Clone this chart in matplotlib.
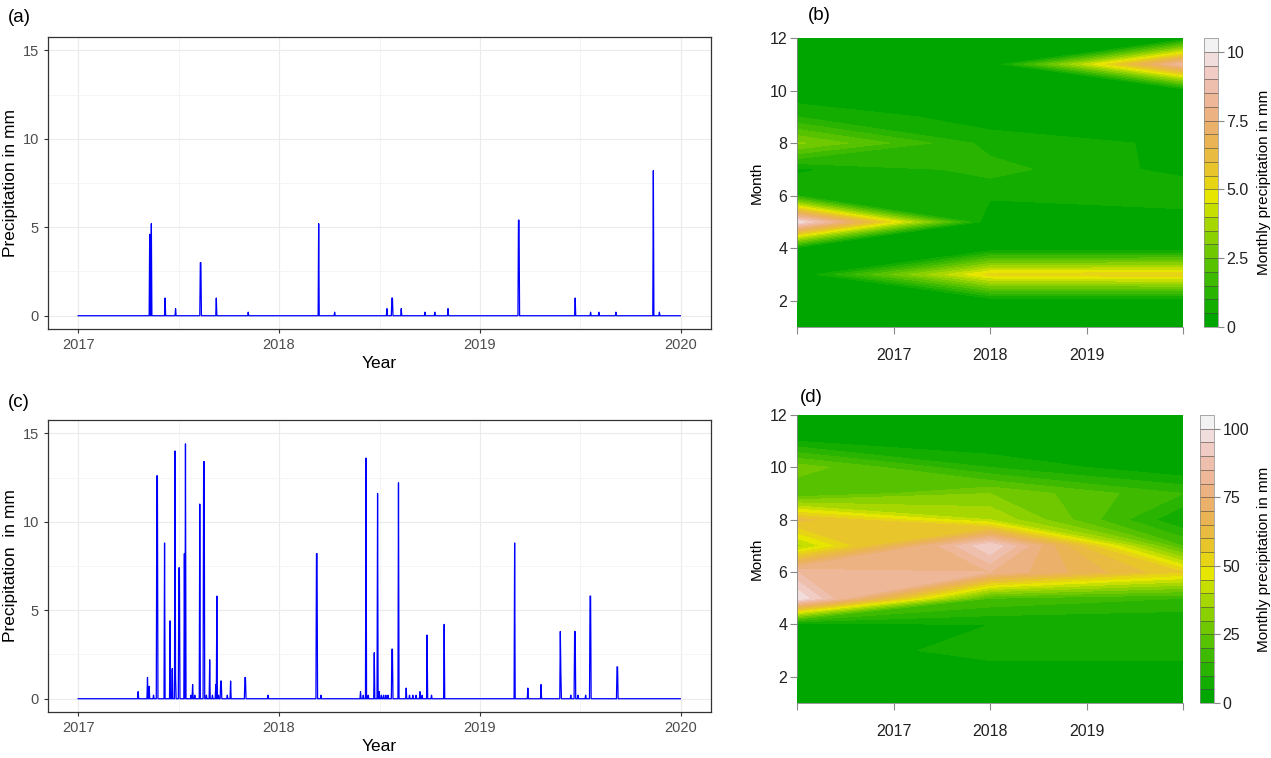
import colorsys
import numpy as np
import pandas as pd
import matplotlib
matplotlib.use("Agg")
import matplotlib.pyplot as plt
from matplotlib.ticker import FixedLocator, FixedFormatter

plt.rcParams['font.family'] = ['Liberation Sans', 'DejaVu Sans']

# daily series span
start_date = '2017-01-01'
end_date = '2019-12-31'

# rain days, panel (a)
rain_a_dates = ['2017-05-11', '2017-05-14', '2017-06-08', '2017-06-27', '2017-08-11', '2017-08-12',
                '2017-09-09', '2017-11-06', '2018-03-14', '2018-04-12', '2018-07-16', '2018-07-25',
                '2018-07-26', '2018-08-11', '2018-09-23', '2018-10-11', '2018-11-04', '2019-03-12',
                '2019-03-13', '2019-06-23', '2019-07-21', '2019-08-05', '2019-09-05', '2019-11-12',
                '2019-11-23']
rain_a_vals = [4.6, 5.2, 1.0, 0.4, 3.0, 3.0,
               1.0, 0.2, 5.2, 0.2, 0.4, 1.0,
               1.0, 0.4, 0.2, 0.2, 0.4, 5.4,
               5.4, 1.0, 0.2, 0.2, 0.2, 8.2,
               0.2]

# rain days, panel (c)
rain_c_dates = ['2017-04-20', '2017-05-07', '2017-05-10', '2017-05-18', '2017-05-24', '2017-05-25',
                '2017-06-07', '2017-06-17', '2017-06-21', '2017-06-26', '2017-06-27', '2017-07-03',
                '2017-07-04', '2017-07-13', '2017-07-15', '2017-07-25', '2017-07-28', '2017-08-01',
                '2017-08-10', '2017-08-17', '2017-08-18', '2017-08-22', '2017-08-28', '2017-09-02',
                '2017-09-08', '2017-09-10', '2017-09-13', '2017-09-17', '2017-09-18', '2017-09-29',
                '2017-10-05', '2017-10-31', '2017-11-01', '2017-12-12', '2018-03-10', '2018-03-11',
                '2018-03-18', '2018-05-29', '2018-06-03', '2018-06-08', '2018-06-12', '2018-06-23',
                '2018-06-29', '2018-07-02', '2018-07-06', '2018-07-10', '2018-07-14', '2018-07-18',
                '2018-07-25', '2018-07-26', '2018-08-06', '2018-08-20', '2018-08-26', '2018-09-01',
                '2018-09-07', '2018-09-14', '2018-09-18', '2018-09-27', '2018-10-05', '2018-10-28',
                '2019-03-05', '2019-03-29', '2019-04-22', '2019-05-27', '2019-05-28', '2019-06-15',
                '2019-06-22', '2019-06-23', '2019-06-28', '2019-07-12', '2019-07-20', '2019-07-21',
                '2019-09-07', '2019-09-08']
rain_c_vals = [0.4, 1.2, 0.7, 0.2, 12.6, 12.6,
               8.8, 4.4, 1.7, 14.0, 1.2, 7.4,
               7.4, 8.2, 14.4, 0.2, 0.8, 0.2,
               11.0, 13.4, 13.4, 0.2, 2.2, 0.2,
               0.8, 5.8, 0.2, 1.0, 1.0, 0.2,
               1.0, 1.2, 1.2, 0.2, 8.2, 8.2,
               0.2, 0.4, 0.2, 13.6, 0.2, 2.6,
               11.6, 0.4, 0.2, 0.2, 0.2, 0.2,
               2.8, 2.8, 12.2, 0.6, 0.2, 0.2,
               0.2, 0.4, 0.2, 3.6, 0.2, 4.2,
               8.8, 0.6, 0.8, 3.8, 1.4, 0.2,
               3.8, 3.8, 0.2, 0.2, 5.8, 5.8,
               1.8, 1.8]

# monthly grids for the contour panels (rows = month 1..12, cols = 2017, 2018, 2019)
months = list(range(1, 13))
years = ['2017', '2018', '2019']
monthly_b = [[0.0, 0.0, 0.0],
             [0.0, 0.0, 0.0],
             [0.0, 5.2, 5.4],
             [0.3, 0.0, 0.0],
             [9.8, 0.0, 0.0],
             [1.0, 0.6, 1.0],
             [0.4, 1.2, 0.3],
             [3.1, 0.8, 0.4],
             [1.0, 0.2, 0.0],
             [0.0, 0.4, 0.0],
             [0.2, 0.0, 8.4],
             [0.0, 0.0, 0.0]]
monthly_d = [[0, 0, 0],
             [0, 0, 0],
             [0, 8, 8],
             [0, 5, 5],
             [100, 20, 15],
             [85, 80, 55],
             [38, 95, 20],
             [62, 40, 5],
             [20, 30, 15],
             [28, 10, 0],
             [5, 0, 0],
             [0, 0, 0]]


def terrain_colors(n):
    # same ramp as R's terrain.colors()
    k = n // 2
    cols = []
    h = np.linspace(4 / 12, 2 / 12, k)
    v = np.linspace(0.65, 0.9, k)
    for i in range(k):
        cols.append(colorsys.hsv_to_rgb(h[i], 1.0, v[i]))
    h2 = np.linspace(2 / 12, 0, n - k + 1)[1:]
    s2 = np.linspace(1, 0, n - k + 1)[1:]
    v2 = np.linspace(0.9, 0.95, n - k + 1)[1:]
    for i in range(n - k):
        cols.append(colorsys.hsv_to_rgb(h2[i], s2[i], v2[i]))
    return cols


def daily(dates, vals):
    idx = pd.date_range(start_date, end_date, freq='D')
    s = pd.Series(0.0, index=idx)
    for d, v in zip(dates, vals):
        s[pd.Timestamp(d)] = v
    frac = idx.year + (idx.dayofyear - 1) / 365.0
    return np.asarray(frac), s.values


def ts_panel(ax, dates, vals, ylabel):
    x, y = daily(dates, vals)
    ax.plot(x, y, color='#0000ff', lw=0.9)
    ax.set_xlim(2016.85, 2020.15)
    ax.set_ylim(-0.75, 15.75)
    ax.set_xticks([2017, 2018, 2019, 2020])
    ax.set_xticks([2017.5, 2018.5, 2019.5], minor=True)
    ax.set_yticks([0, 5, 10, 15])
    ax.set_yticks([2.5, 7.5, 12.5], minor=True)
    ax.grid(True, which='major', color='#ebebeb', lw=0.8)
    ax.grid(True, which='minor', color='#f2f2f2', lw=0.5)
    ax.set_axisbelow(True)
    for sp in ax.spines.values():
        sp.set_color('#333333')
        sp.set_linewidth(0.9)
    ax.tick_params(which='major', length=3, color='#333333', labelcolor='#4d4d4d', labelsize=10.5)
    ax.tick_params(which='minor', length=0)
    ax.set_xlabel('Year', fontsize=12.5, labelpad=3)
    ax.set_ylabel(ylabel, fontsize=12.5, labelpad=3)


def contour_panel(fig, ax, cax, grid, step, ticks, ticklabels):
    z = np.array(grid, dtype=float)
    xpos = np.arange(len(years))
    levels = np.arange(0, step * 22, step)[:22]
    cs = ax.contourf(xpos, months, z, levels=levels, colors=terrain_colors(21))
    ax.set_xlim(0, 2)
    ax.set_ylim(1, 12)
    ax.xaxis.set_major_locator(FixedLocator([0, 0.5, 1, 1.5, 2]))
    ax.xaxis.set_major_formatter(FixedFormatter([''] + years + ['']))
    ax.set_yticks([2, 4, 6, 8, 10, 12])
    for sp in ['top', 'right']:
        ax.spines[sp].set_visible(False)
    ax.spines['left'].set_bounds(2, 12)
    for sp in ['left', 'bottom']:
        ax.spines[sp].set_color('#888888')
        ax.spines[sp].set_linewidth(0.6)
    ax.tick_params(length=5, color='#888888', labelsize=11.5, labelcolor='#222222', pad=2)
    ax.tick_params(axis='x', pad=10)
    ax.set_ylabel('Month', fontsize=11, labelpad=4)

    cb = fig.colorbar(cs, cax=cax, drawedges=True)
    cb.dividers.set_color('#444444')
    cb.dividers.set_linewidth(0.4)
    cb.outline.set_edgecolor('#888888')
    cb.outline.set_linewidth(0.5)
    cb.set_ticks(ticks)
    cb.set_ticklabels(ticklabels)
    cax.tick_params(length=4, color='#888888', labelsize=11.5, labelcolor='#222222', pad=2)
    cb.set_label('Monthly precipitation in mm', fontsize=11, labelpad=6)


W, H = 1271, 758
fig = plt.figure(figsize=(W / 100, H / 100), dpi=100)


def frac_box(x0, y0, x1, y1):
    return [x0 / W, 1 - y1 / H, (x1 - x0) / W, (y1 - y0) / H]


ax_a = fig.add_axes(frac_box(48, 37, 711, 329))
ax_c = fig.add_axes(frac_box(48, 420, 711, 712))
ax_b = fig.add_axes(frac_box(797, 38, 1183, 327))
cax_b = fig.add_axes(frac_box(1204, 38, 1218, 327))
ax_d = fig.add_axes(frac_box(797, 415, 1183, 703))
cax_d = fig.add_axes(frac_box(1200, 415, 1214, 703))

ts_panel(ax_a, rain_a_dates, rain_a_vals, 'Precipitation in mm')
ts_panel(ax_c, rain_c_dates, rain_c_vals, 'Precipitation  in mm')
contour_panel(fig, ax_b, cax_b, monthly_b, 0.5, [0, 2.5, 5, 7.5, 10], ['0', '2.5', '5.0', '7.5', '10'])
contour_panel(fig, ax_d, cax_d, monthly_d, 5, [0, 25, 50, 75, 100], ['0', '25', '50', '75', '100'])

fig.text(8 / W, 1 - 17 / H, '(a)', fontsize=13.5, va='center', ha='left')
fig.text(8 / W, 1 - 402 / H, '(c)', fontsize=13.5, va='center', ha='left')
fig.text(808 / W, 1 - 16 / H, '(b)', fontsize=13.5, va='center', ha='left')
fig.text(800 / W, 1 - 398 / H, '(d)', fontsize=13.5, va='center', ha='left')

fig.savefig('out.png', dpi=100)
